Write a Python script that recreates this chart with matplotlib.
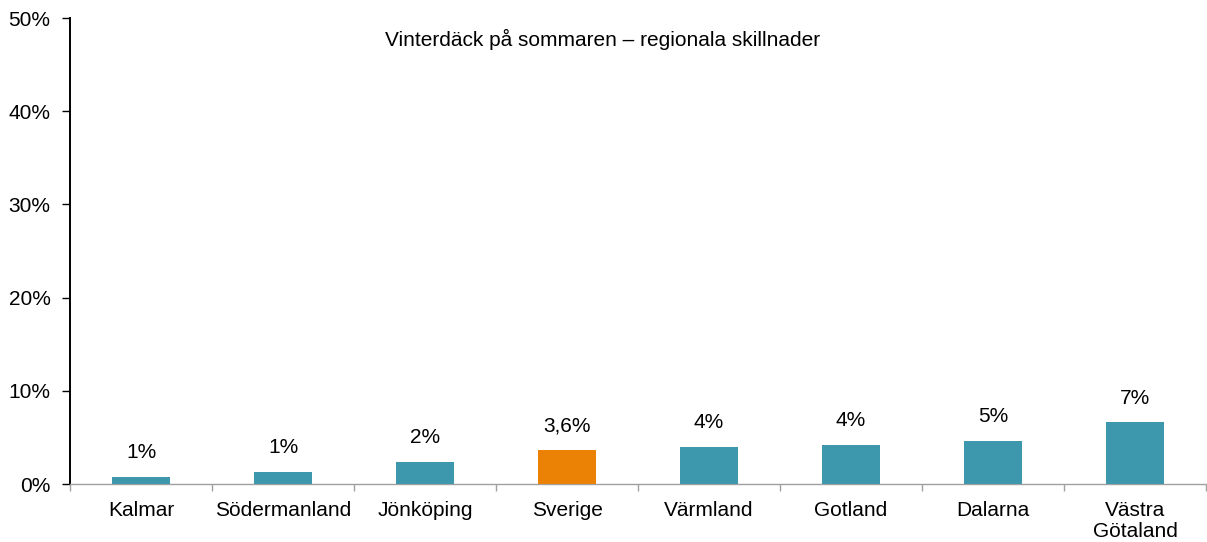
"""
Figure: vinterdäck på sommaren - regionala skillnader
"""
import matplotlib
matplotlib.use("Agg")
import matplotlib.pyplot as plt
import numpy as np

# --------------------------------------------------------------------------------
# data
# --------------------------------------------------------------------------------
REGIONS = ["Kalmar", "Södermanland", "Jönköping", "Sverige",
           "Värmland", "Gotland", "Dalarna", "Västra\nGötaland"]
SHARE = [0.8, 1.3, 2.4, 3.6, 4.0, 4.2, 4.6, 6.6]
VALUE_LABELS = ["1%", "1%", "2%", "3,6%", "4%", "4%", "5%", "7%"]
Y_TICKS = [0, 10, 20, 30, 40, 50]
TITLE = "Vinterdäck på sommaren – regionala skillnader"

# plot
COLOR_BAR = "#3D98AE"
COLOR_HIGHLIGHT = "#EC8205"
FONT = ["Liberation Sans", "DejaVu Sans"]
FONT_SIZE = 15


def draw_chart():
    plt.rcParams["font.family"] = FONT
    fig = plt.figure(figsize=(12.07, 5.42), dpi=100, facecolor="w")
    ax = fig.add_axes([70 / 1207, 1 - 484 / 542, 1136 / 1207, 466 / 542])

    x = np.arange(len(REGIONS))
    colors = [COLOR_HIGHLIGHT if r == "Sverige" else COLOR_BAR for r in REGIONS]
    ax.bar(x, SHARE, width=0.41, color=colors, zorder=3)

    for xi, v, lab in zip(x, SHARE, VALUE_LABELS):
        ax.text(xi, v + 2.6, lab, ha="center", va="center", fontsize=FONT_SIZE)

    ax.set_xlim(-0.5, len(REGIONS) - 0.5)
    ax.set_ylim(0, 50)
    ax.set_yticks(Y_TICKS)
    ax.set_yticklabels(["{0}%".format(t) for t in Y_TICKS], fontsize=FONT_SIZE)

    # category ticks sit between the bars
    ax.set_xticks(np.arange(-0.5, len(REGIONS) + 0.5, 1.0))
    ax.set_xticklabels([])
    ax.set_xticks(x, minor=True)
    ax.set_xticklabels(REGIONS, minor=True, fontsize=FONT_SIZE, linespacing=1.15)
    ax.tick_params(axis="x", which="minor", length=0, pad=12)
    ax.tick_params(axis="x", which="major", length=5, color="#A0A0A0", width=1)
    ax.tick_params(axis="y", length=6, width=1, pad=8)

    for side in ["top", "right"]:
        ax.spines[side].set_visible(False)
    ax.spines["left"].set_linewidth(1.4)
    ax.spines["bottom"].set_color("#A0A0A0")
    ax.spines["bottom"].set_linewidth(1)

    ax.text(0.469, 0.953, TITLE, transform=ax.transAxes, ha="center",
            va="center", fontsize=FONT_SIZE)

    plt.savefig("out.png", dpi=100)
    plt.close()


if __name__ == '__main__':
    draw_chart()
